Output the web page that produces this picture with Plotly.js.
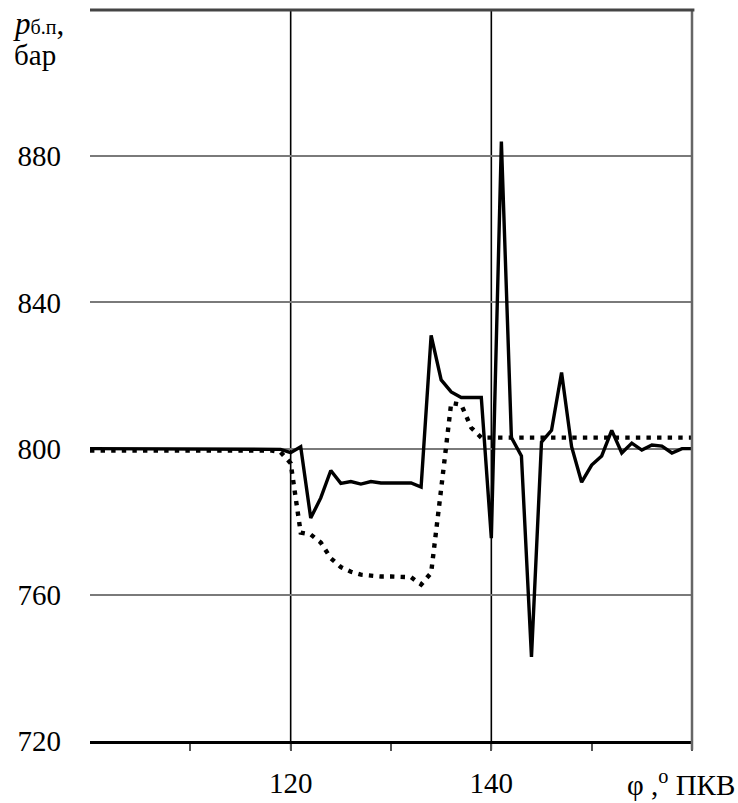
<!DOCTYPE html>
<html>
<head>
<meta charset="utf-8">
<script src="https://cdn.plot.ly/plotly-3.0.1.min.js"></script>
<style>html,body{margin:0;padding:0;background:#fff;}</style>
</head>
<body>
<div id="chart" style="width:738px;height:803px;"></div>
<script>
// crank angle, degrees
var angle = [100,101,102,103,104,105,106,107,108,109,110,111,112,113,114,115,116,117,118,119,
             120,121,122,123,124,125,126,127,128,129,130,131,132,133,134,135,136,137,138,139,
             140,141,142,143,144,145,146,147,148,149,150,151,152,153,154,155,156,157,158,159,160];
// solid curve, bar
var pressureSolid = [800,800,800,800,800,800,800,800,800,800,800,800,800,800,800,800,800,800,800,799.8,
                     798.9,800.5,781,786.5,794,790.5,791,790.3,791,790.6,790.6,790.7,790.6,789.5,831,818.8,815.5,814,814,814,
                     775.5,884,803,798,743,801.8,805,820.8,800.5,790.8,795.5,798,805,798.8,801.5,799.6,801,800.7,798.8,800,800];
// dotted curve, bar
var pressureDotted = [799.5,799.5,799.5,799.5,799.5,799.5,799.5,799.5,799.5,799.5,799.5,799.5,799.5,799.5,799.5,799.5,799.5,799.5,799.5,799,
                      796,777,776.5,774.3,770,767.6,766.3,765.5,765.2,765,765,765,764.8,762.8,766,789,812.5,812,805.7,803,
                      803,803,803,803,803,803,803,803,803,803,803,803,803,803,803,803,803,803,803,803,803];
var yTicks = [720,760,800,840,880];
var xTicks = [110,120,130,140,150,160];
var xTickText = ['', '120', '', '140', '', ''];

var serif = 'Liberation Serif';

var traces = [
  {x: angle, y: pressureDotted, mode: 'lines', type: 'scatter',
   line: {color: '#000', width: 4.4, dash: '4.4px,6.2px'}, hoverinfo: 'skip'},
  {x: angle, y: pressureSolid, mode: 'lines', type: 'scatter',
   line: {color: '#000', width: 3.4}, hoverinfo: 'skip'}
];

var layout = {
  width: 738, height: 803,
  margin: {l: 90, r: 46, t: 10, b: 62},
  paper_bgcolor: '#fff', plot_bgcolor: '#fff',
  showlegend: false,
  font: {family: serif, size: 29, color: '#000'},
  xaxis: {
    range: [100, 160], tickvals: xTicks, ticktext: xTickText,
    showgrid: false, zeroline: false,
    showline: true, linecolor: '#000', linewidth: 2.5,
    ticks: 'outside', ticklen: 7, tickwidth: 2, tickcolor: '#555',
    ticklabelstandoff: 8,
    tickfont: {family: serif, size: 29, color: '#000'}
  },
  yaxis: {
    range: [720, 920], tickvals: yTicks,
    showgrid: true, gridcolor: '#7a7a7a', gridwidth: 2,
    zeroline: false, showline: false, ticks: '',
    ticklabelstandoff: 28,
    tickfont: {family: serif, size: 29, color: '#000'}
  },
  shapes: [
    {type: 'line', xref: 'x', yref: 'paper', x0: 120, x1: 120, y0: -0.012, y1: 1, line: {color: '#000', width: 1.6}, layer: 'below'},
    {type: 'line', xref: 'x', yref: 'paper', x0: 140, x1: 140, y0: -0.012, y1: 1, line: {color: '#000', width: 1.6}, layer: 'below'},
    {type: 'line', xref: 'paper', yref: 'paper', x0: 1, x1: 1, y0: -0.012, y1: 1, line: {color: '#666', width: 2.5}},
    {type: 'line', xref: 'paper', yref: 'paper', x0: 0, x1: 1.004, y0: 1, y1: 1, line: {color: '#444', width: 3}}
  ],
  annotations: [
    {xref: 'paper', yref: 'paper', x: -0.132, y: 0.982, xanchor: 'left', yanchor: 'middle', showarrow: false, align: 'left',
     text: '<i>p</i><span style="font-size:20px">б.п</span>,',
     font: {family: serif, size: 31, color: '#000'}},
    {xref: 'paper', yref: 'paper', x: -0.13, y: 0.938, xanchor: 'left', yanchor: 'middle', showarrow: false, align: 'left',
     text: 'бар',
     font: {family: serif, size: 29, color: '#000'}},
    {xref: 'paper', yref: 'paper', x: 1.075, y: -0.058, xanchor: 'right', yanchor: 'middle', showarrow: false,
     text: 'φ ,<sup>o</sup> ПКВ', font: {family: serif, size: 29, color: '#000'}}
  ]
};

Plotly.newPlot('chart', traces, layout, {staticPlot: true, displayModeBar: false});
</script>
</body>
</html>
